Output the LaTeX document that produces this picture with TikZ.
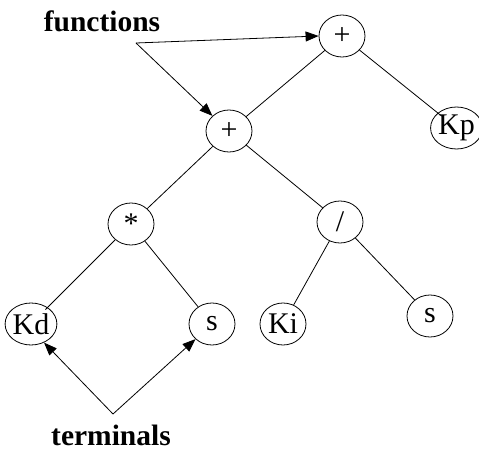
\documentclass[tikz,border=0pt]{standalone}
\usepackage{fontspec}
\setmainfont{Liberation Serif}
\usetikzlibrary{shapes.geometric,arrows.meta}
\begin{document}
\begin{tikzpicture}[x=1pt,y=-1pt,
  tnode/.style={draw,ellipse,line width=0.8pt,minimum width=46pt,minimum height=42pt,inner sep=0pt,font=\fontsize{30}{32}\selectfont},
  edge/.style={line width=0.8pt},
  pointer/.style={line width=0.8pt,-{Triangle[length=13pt,width=10pt]}},
  lbl/.style={font=\fontsize{29.5}{31}\selectfont\bfseries,inner sep=0pt,anchor=base}]
\useasboundingbox (0,0) rectangle (479,454);
\node[tnode] (p1) at (342,36) {+};
\node[tnode] (kp) at (456.5,128) {Kp};
\node[tnode] (p2) at (229,131) {+};
\node[tnode] (mul) at (131,224) {*};
\node[tnode] (div) at (340,222) {/};
\node[tnode] (kd) at (31,324) {Kd};
\node[tnode] (s1) at (212,324) {s};
\node[tnode] (ki) at (283,324) {Ki};
\node[tnode] (s2) at (430,316) {s};
\draw[edge] (p1) -- (p2);
\draw[edge,shorten >=-5pt] (p1) -- (kp);
\draw[edge] (p2) -- (mul);
\draw[edge] (p2) -- (div);
\draw[edge,shorten >=-3pt] (mul) -- (kd);
\draw[edge] (mul) -- (s1);
\draw[edge] (div) -- (ki);
\draw[edge] (div) -- (s2);
\node[lbl] (fn) at (102,32) {functions};
\node[lbl] (tm) at (111,445) {terminals};
\coordinate (fa) at (136,43);
\coordinate (ta) at (113,414);
\draw[pointer] (fa) -- (p1.west);
\draw[pointer] (fa) -- (p2.north west);
\draw[pointer] (ta) -- (kd.-55);
\draw[pointer] (ta) -- (s1.south west);
\end{tikzpicture}
\end{document}
